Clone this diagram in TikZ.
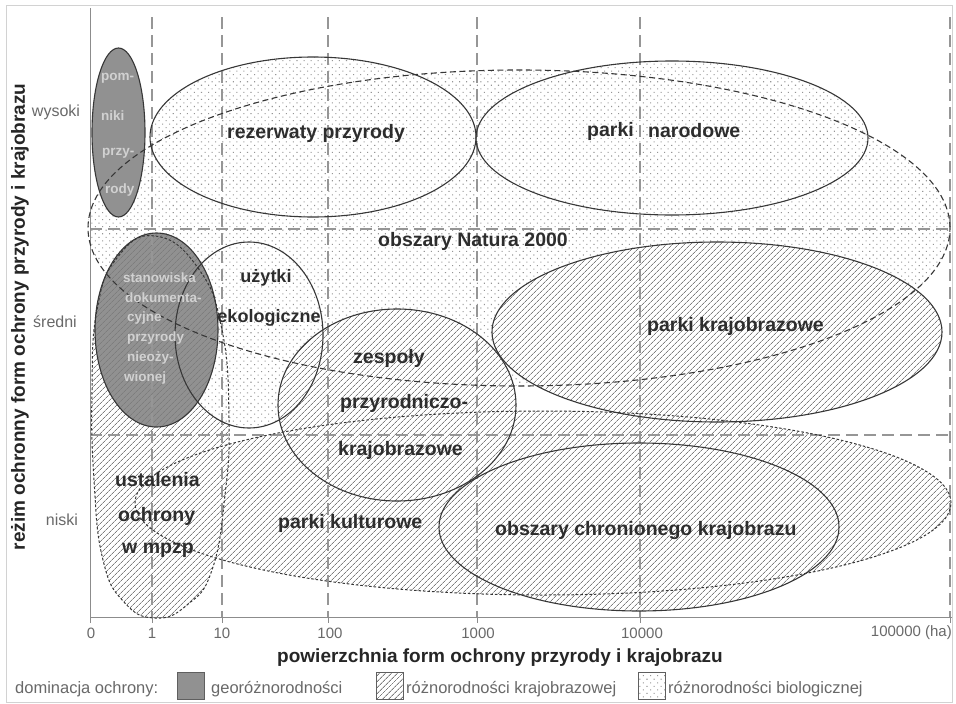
\documentclass[tikz,border=0pt]{standalone}
\usepackage{fontspec}
\setmainfont{Liberation Sans}
\usetikzlibrary{patterns.meta}

\definecolor{geo}{RGB}{145,145,145}
\definecolor{hatchc}{RGB}{125,125,125}
\definecolor{dotc}{RGB}{150,150,150}
\definecolor{edge}{RGB}{55,55,55}
\definecolor{lbl}{RGB}{45,45,45}
\definecolor{gridc}{RGB}{150,150,150}
\definecolor{axc}{RGB}{140,140,140}
\definecolor{smalltxt}{RGB}{105,105,105}

\newcommand{\fsz}[1]{\fontsize{#1}{#1}\selectfont}

% shapes
\newcommand{\pNatura}{(519,228) ellipse [x radius=431pt, y radius=158pt]}
\newcommand{\pRez}{(313,137) ellipse [x radius=163pt, y radius=80pt]}
\newcommand{\pNar}{(672,138) ellipse [x radius=196pt, y radius=77pt]}
\newcommand{\pPom}{(118.5,132.5) ellipse [x radius=26.5pt, y radius=84.5pt]}
\newcommand{\pKult}{(543,503) ellipse [x radius=408pt, y radius=92pt]}
\newcommand{\pUst}{plot[smooth cycle,tension=0.8] coordinates {(155,236) (198,268) (222,330) (229,420) (225,495) (212,570) (187,605) (155,618) (124,602) (103,560) (94,480) (92,390) (97,310) (117,258)}}
\newcommand{\pUzy}{(249,335) ellipse [x radius=74pt, y radius=93pt]}
\newcommand{\pSta}{(156.5,330) ellipse [x radius=61.5pt, y radius=97pt]}
\newcommand{\pZes}{(397,405) ellipse [x radius=119pt, y radius=96pt]}
\newcommand{\pKraj}{(717,332) ellipse [x radius=225pt, y radius=90pt]}
\newcommand{\pOch}{(639,527) ellipse [x radius=200pt, y radius=84pt]}

\tikzset{
 dotfill/.style={pattern={Dots[distance=5pt,angle=45,radius=0.75pt]},pattern color=dotc},
 hatchfill/.style={pattern={Lines[angle=45,distance=4pt,line width=0.85pt]},pattern color=hatchc},
 solidedge/.style={draw=edge,line width=1.1pt},
 dashedge/.style={draw=edge,line width=1.1pt,dash pattern=on 6pt off 3.5pt},
 dotedge/.style={draw=edge,line width=1pt,dash pattern=on 2.5pt off 2pt},
 gridline/.style={draw=gridc,line width=1.3pt,dash pattern=on 12pt off 6pt},
 lab/.style={font=\bfseries\fsz{19.5},text=lbl,inner sep=0pt},
 smlab/.style={font=\bfseries\fsz{13.5},text=white!82!black,inner sep=0pt,anchor=west},
 axlab/.style={font=\fsz{15},text=smalltxt,inner sep=0pt},
 leglab/.style={font=\fsz{16.5},text=smalltxt,inner sep=0pt,anchor=west},
 legbox/.style={draw=edge!80,line width=1pt,minimum width=27pt,minimum height=27pt,inner sep=0pt},
}

\begin{document}
\begin{tikzpicture}[x=1pt,y=-1pt]
\useasboundingbox (0,0) rectangle (956,704);
\fill[white] (0,0) rectangle (956,704);
\draw[gray!35,line width=1pt] (6,5) rectangle (952,702);

% ---------- fills ----------
\path[dotfill,preaction={fill=white}] \pNatura;
\path[dotfill,preaction={fill=white}] \pRez;
\path[dotfill,preaction={fill=white}] \pNar;
\path[fill=geo] \pPom;
\path[hatchfill,preaction={fill=white}] \pKult;
\path[hatchfill,preaction={fill=white}] \pUst;
\path[dotfill,preaction={fill=white}] \pUzy;
\path[hatchfill,preaction={fill=geo}] \pSta;
\path[hatchfill,preaction={fill=white}] \pZes;
\path[hatchfill,preaction={fill=white}] \pKraj;
\path[hatchfill,preaction={fill=white}] \pOch;

% ---------- grid and axes ----------
\coordinate (o) at (90,617);
\foreach \gx in {152,222,328,477,640,950}{
  \draw[gridline] (\gx,17) -- (\gx,617);
  \draw[axc,line width=0.8pt] (\gx,617) -- (\gx,623);
}
\draw[gridline] (90,229) -- (950,229);
\draw[gridline] (90,435) -- (950,435);
\coordinate (ytop) at (90,8);
\coordinate (xend) at (952,617);
\draw[axc,line width=1pt] (ytop) -- (o) -- (xend);
\draw[axc,line width=0.8pt] (o) -- (90,623);

% ---------- outlines ----------
\path[dashedge] \pNatura;
\path[solidedge] \pRez;
\path[solidedge] \pNar;
\path[solidedge] \pPom;
\path[dotedge] \pKult;
\path[dotedge] \pUst;
\path[solidedge] \pUzy;
\path[solidedge] \pSta;
\path[solidedge] \pZes;
\path[solidedge] \pKraj;
\path[solidedge] \pOch;

% ---------- labels in shapes ----------
\node[lab,anchor=west] (rez) at (227,133) {rezerwaty przyrody};
\node[lab,anchor=west] (nar1) at (587,131) {parki};
\node[lab,anchor=west] (nar2) at (648,131) {narodowe};
\node[lab,anchor=west] (nat) at (378,241) {obszary Natura 2000};
\node[lab,anchor=west] (kraj) at (647,326) {parki krajobrazowe};
\node[lab,anchor=west] (och) at (495,530) {obszary chronionego krajobrazu};
\node[lab,anchor=west] (kult) at (278,523) {parki kulturowe};
\node[lab,anchor=west] (zes1) at (353,358) {zespoły};
\node[lab,anchor=west] (zes2) at (340,403) {przyrodniczo-};
\node[lab,anchor=west] (zes3) at (338,450) {krajobrazowe};
\node[lab,font=\bfseries\fsz{18}] (uz1) at (266,278) {użytki};
\node[lab,font=\bfseries\fsz{18}] (uz2) at (269,318) {ekologiczne};
\node[lab,anchor=west] (ust1) at (115,480) {ustalenia};
\node[lab,anchor=west] (ust2) at (118,516) {ochrony};
\node[lab,anchor=west] (ust3) at (122,550) {w mpzp};

\node[smlab] (pom1) at (101,78) {pom-};
\node[smlab] (pom2) at (101,116) {niki};
\node[smlab] (pom3) at (102,153) {przy-};
\node[smlab] (pom4) at (105,190) {rody};

\node[smlab] (st1) at (123,278) {stanowiska};
\node[smlab] (st2) at (125,298) {dokumenta-};
\node[smlab] (st3) at (127,318) {cyjne};
\node[smlab] (st4) at (127,338) {przyrody};
\node[smlab] (st5) at (127,358) {nieoży-};
\node[smlab] (st6) at (124,378) {wionej};

% ---------- axis labels ----------
\node[axlab,font=\fsz{16}] (wys) at (56,112) {wysoki};
\node[axlab,font=\fsz{16}] (sre) at (55,322) {średni};
\node[axlab,font=\fsz{16}] (nis) at (62,520) {niski};
\node[axlab] (t0) at (91,633) {0};
\node[axlab] (t1) at (152,633) {1};
\node[axlab] (t10) at (222,633) {10};
\node[axlab] (t100) at (330,633) {100};
\node[axlab] (t1000) at (478,633) {1000};
\node[axlab] (t10000) at (642,633) {10000};
\node[axlab,anchor=east] (t100000) at (952,633) {100000 (ha)};

\node[font=\bfseries\fsz{19},text=black!85,inner sep=0pt] (xtitle) at (500,658) {powierzchnia form ochrony przyrody i krajobrazu};
\node[font=\bfseries\fsz{19},text=black!85,inner sep=0pt,rotate=90] (ytitle) at (20,317) {reżim ochronny form ochrony przyrody i krajobrazu};

% ---------- legend ----------
\node[leglab] (legt) at (15,689) {dominacja ochrony:};
\node[legbox,fill=geo] (lgeo) at (191,686) {};
\node[leglab] (lgeot) at (211,689) {georóżnorodności};
\node[legbox,hatchfill,preaction={fill=white}] (lkraj) at (390,686) {};
\node[leglab] (lkrajt) at (406,689) {różnorodności krajobrazowej};
\node[legbox,dotfill,preaction={fill=white}] (lbio) at (652,686) {};
\node[leglab] (lbiot) at (668,689) {różnorodności biologicznej};
\end{tikzpicture}
\end{document}
